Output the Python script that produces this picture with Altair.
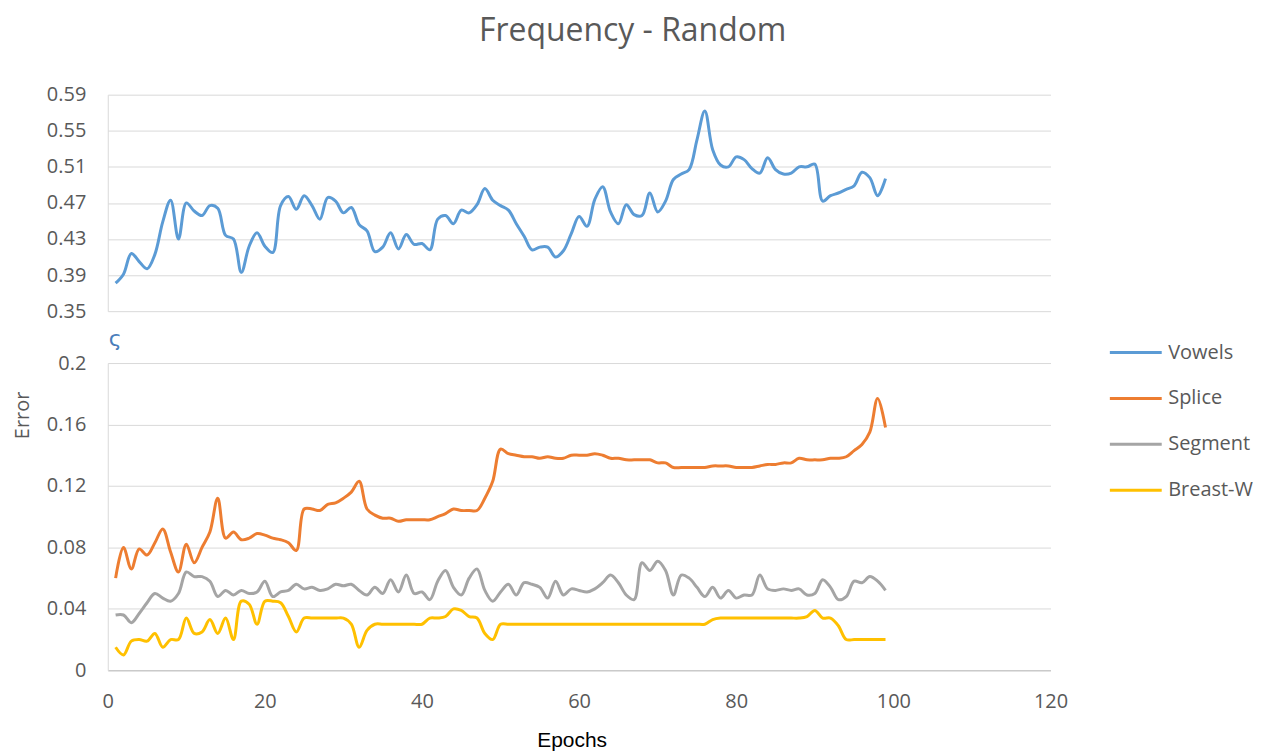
import altair as alt
import pandas as pd

epochs = list(range(1, 100))

vowels = [0.381, 0.391, 0.414, 0.405, 0.397, 0.413, 0.449, 0.473, 0.430, 0.470,
          0.461, 0.456, 0.467, 0.464, 0.434, 0.430, 0.393, 0.422, 0.437, 0.422,
          0.415, 0.467, 0.477, 0.463, 0.478, 0.467, 0.452, 0.476, 0.472, 0.459,
          0.465, 0.446, 0.439, 0.416, 0.421, 0.437, 0.419, 0.435, 0.424, 0.425,
          0.418, 0.452, 0.456, 0.447, 0.462, 0.459, 0.468, 0.486, 0.473, 0.467,
          0.462, 0.447, 0.433, 0.418, 0.421, 0.421, 0.410, 0.417, 0.436, 0.455,
          0.444, 0.474, 0.488, 0.460, 0.447, 0.468, 0.457, 0.456, 0.481, 0.460,
          0.472, 0.496, 0.502, 0.507, 0.540, 0.572, 0.529, 0.512, 0.510, 0.521,
          0.518, 0.508, 0.503, 0.520, 0.507, 0.502, 0.503, 0.510, 0.510, 0.513,
          0.472, 0.478, 0.481, 0.485, 0.489, 0.504, 0.498, 0.478, 0.497]

splice = [0.060, 0.080, 0.066, 0.079, 0.075, 0.083, 0.092, 0.077, 0.064, 0.082,
          0.070, 0.080, 0.090, 0.112, 0.086, 0.090, 0.085, 0.086, 0.089, 0.088,
          0.086, 0.085, 0.083, 0.078, 0.105, 0.105, 0.104, 0.108, 0.109, 0.112,
          0.116, 0.123, 0.105, 0.101, 0.099, 0.099, 0.097, 0.098, 0.098, 0.098,
          0.098, 0.100, 0.102, 0.105, 0.104, 0.104, 0.104, 0.112, 0.123, 0.144,
          0.141, 0.140, 0.139, 0.139, 0.138, 0.139, 0.138, 0.138, 0.140, 0.140,
          0.140, 0.141, 0.140, 0.138, 0.138, 0.137, 0.137, 0.137, 0.137, 0.135,
          0.135, 0.132, 0.132, 0.132, 0.132, 0.132, 0.133, 0.133, 0.133, 0.132,
          0.132, 0.132, 0.133, 0.134, 0.134, 0.135, 0.135, 0.138, 0.137, 0.137,
          0.137, 0.138, 0.138, 0.139, 0.143, 0.147, 0.155, 0.177, 0.158]

segment = [0.036, 0.036, 0.031, 0.037, 0.044, 0.050, 0.047, 0.045, 0.050, 0.064,
           0.061, 0.061, 0.058, 0.048, 0.052, 0.049, 0.052, 0.050, 0.051, 0.058,
           0.048, 0.051, 0.052, 0.056, 0.053, 0.054, 0.052, 0.053, 0.056, 0.055,
           0.056, 0.052, 0.049, 0.054, 0.050, 0.059, 0.051, 0.062, 0.050, 0.051,
           0.046, 0.058, 0.065, 0.054, 0.049, 0.060, 0.066, 0.052, 0.045, 0.051,
           0.056, 0.049, 0.057, 0.056, 0.054, 0.047, 0.058, 0.049, 0.053, 0.052,
           0.051, 0.053, 0.057, 0.062, 0.057, 0.049, 0.046, 0.070, 0.065, 0.071,
           0.065, 0.049, 0.062, 0.060, 0.054, 0.048, 0.054, 0.047, 0.052, 0.047,
           0.049, 0.049, 0.062, 0.053, 0.052, 0.053, 0.052, 0.053, 0.049, 0.050,
           0.059, 0.054, 0.046, 0.048, 0.058, 0.057, 0.061, 0.058, 0.052]

breast_w = [0.015, 0.010, 0.019, 0.020, 0.019, 0.024, 0.015, 0.020, 0.020, 0.034,
            0.024, 0.025, 0.033, 0.024, 0.034, 0.020, 0.045, 0.043, 0.030, 0.045,
            0.045, 0.044, 0.035, 0.025, 0.034, 0.034, 0.034, 0.034, 0.034, 0.034,
            0.030, 0.015, 0.026, 0.030, 0.030, 0.030, 0.030, 0.030, 0.030, 0.030,
            0.034, 0.034, 0.035, 0.040, 0.039, 0.035, 0.034, 0.024, 0.020, 0.030,
            0.030, 0.030, 0.030, 0.030, 0.030, 0.030, 0.030, 0.030, 0.030, 0.030,
            0.030, 0.030, 0.030, 0.030, 0.030, 0.030, 0.030, 0.030, 0.030, 0.030,
            0.030, 0.030, 0.030, 0.030, 0.030, 0.030, 0.033, 0.034, 0.034, 0.034,
            0.034, 0.034, 0.034, 0.034, 0.034, 0.034, 0.034, 0.034, 0.035, 0.039,
            0.034, 0.034, 0.029, 0.020, 0.020, 0.020, 0.020, 0.020, 0.020]

series_names = ["Vowels", "Splice", "Segment", "Breast-W"]
series_colors = ["#5B9BD5", "#ED7D31", "#A5A5A5", "#FFC000"]
top_ticks = [0.35, 0.39, 0.43, 0.47, 0.51, 0.55, 0.59]
bottom_ticks = [0, 0.04, 0.08, 0.12, 0.16, 0.2]
x_ticks = [0, 20, 40, 60, 80, 100, 120]
break_mark = ["ς"]

rows = []
for name, vals in zip(series_names, [vowels, splice, segment, breast_w]):
    for e, v in zip(epochs, vals):
        rows.append({"Epoch": e, "Error": v, "Series": name})
df = pd.DataFrame(rows)

FONT = "Open Sans"
GREY = "#595959"
PLOT_W = 945

color = alt.Color(
    "Series:N",
    scale=alt.Scale(domain=series_names, range=series_colors),
    sort=series_names,
    legend=alt.Legend(
        title=None, orient="none", legendX=1003, legendY=231,
        symbolType="stroke", symbolSize=2704, symbolStrokeWidth=3,
        labelFont=FONT, labelFontSize=20, labelColor=GREY, labelOffset=5,
        rowPadding=8,
    ),
)

top = alt.Chart(df).transform_filter(alt.datum.Series == "Vowels").mark_line(
    strokeWidth=3, interpolate="catmull-rom"
).encode(
    x=alt.X("Epoch:Q", scale=alt.Scale(domain=[0, 120], nice=False), axis=None),
    y=alt.Y("Error:Q", scale=alt.Scale(domain=[0.35, 0.59], zero=False, nice=False),
            axis=alt.Axis(values=top_ticks, format=".2f", title=None, labelPadding=22)),
    color=color,
).properties(width=PLOT_W, height=217)

bottom_lines = alt.Chart(df).transform_filter(alt.datum.Series != "Vowels").mark_line(
    strokeWidth=3, interpolate="catmull-rom"
).encode(
    x=alt.X("Epoch:Q", scale=alt.Scale(domain=[0, 120], nice=False),
            axis=alt.Axis(values=x_ticks, title="Epochs", labelPadding=21,
                          labelFlush=False, titleX=465,
                          titleFont="Liberation Sans", titleFontSize=21,
                          titleColor="#000000", titleFontWeight="normal",
                          titlePadding=18, grid=False)),
    y=alt.Y("Error:Q", scale=alt.Scale(domain=[0, 0.2], nice=False),
            axis=alt.Axis(values=bottom_ticks, format="~g", title="Error",
                          labelPadding=22, titleY=52, titlePadding=14,
                          titleFont=FONT, titleFontSize=20, titleColor=GREY,
                          titleFontWeight="normal")),
    color=color,
)

squiggle = alt.Chart(pd.DataFrame({"t": break_mark})).mark_text(
    font="DejaVu Sans", fontSize=22, color="#4A7EBB", align="left", baseline="middle"
).encode(x=alt.value(1), y=alt.value(-24), text="t:N")

bottom = alt.layer(bottom_lines, squiggle).properties(width=PLOT_W, height=308)

chart = alt.vconcat(top, bottom, spacing=52, bounds="flush").properties(
    title=alt.Title("Frequency - Random", font=FONT, fontSize=32, color=GREY,
                    fontWeight="normal", anchor="middle", offset=37),
    padding={"left": 4, "top": 6, "right": 0, "bottom": 0},
).configure_view(stroke=None).configure_axis(
    labelFont=FONT, labelFontSize=20, labelColor=GREY,
    gridColor="#D9D9D9", domainColor="#BFBFBF", ticks=False, tickSize=0,
).configure_axisY(domainColor="#D9D9D9")

chart.save("out.html", embed_options={"renderer": "svg", "actions": False})
